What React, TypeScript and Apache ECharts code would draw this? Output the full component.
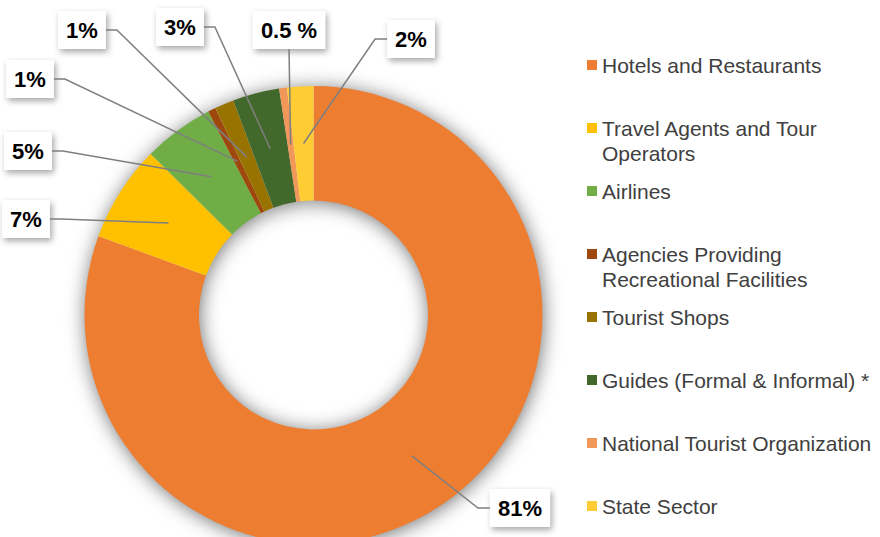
import React, { useEffect, useRef } from "react";
import * as echarts from "echarts";

// ---- data ----
const categories = [
  "Hotels and Restaurants",
  "Travel Agents and Tour Operators",
  "Airlines",
  "Agencies Providing Recreational Facilities",
  "Tourist Shops",
  "Guides (Formal & Informal) *",
  "National Tourist Organization",
  "State Sector",
];
const shares = [80.6, 6.8, 5.0, 0.55, 1.35, 3.3, 0.55, 1.85];
const shareLabels = ["81%", "7%", "5%", "1%", "1%", "3%", "0.5 %", "2%"];
const legendLines = [
  "Hotels and Restaurants",
  "Travel Agents and Tour\nOperators",
  "Airlines",
  "Agencies Providing\nRecreational Facilities",
  "Tourist Shops",
  "Guides (Formal & Informal) *",
  "National Tourist Organization",
  "State Sector",
];

// ---- styles / layout ----
const colors = ["#ED7D31", "#FFC000", "#70AD47", "#9E480E", "#997300", "#43682B", "#F1975A", "#FFCD33"];
const CX = 313.5;
const CY = 315;
const R_IN = 114.5;
const R_OUT = 229;
const LABEL_FONT_SIZE = 22;
const LABEL_PAD = 8;
const FONT = "'Liberation Sans', Arial, sans-serif";
// label box centres and which edge the leader attaches to
const labelCenters: [number, number][] = [
  [520, 508],
  [26, 219],
  [28, 151],
  [30, 79],
  [82, 30],
  [180, 27],
  [289, 30],
  [411, 39],
];
const labelSides = ["left", "right", "right", "right", "right", "right", "bottom", "left"];

function textWidth(t: string): number {
  const c = document.createElement("canvas").getContext("2d");
  if (!c) return t.length * 12;
  c.font = `bold ${LABEL_FONT_SIZE}px ${FONT}`;
  return c.measureText(t).width;
}

export default function App() {
  const ref = useRef<HTMLDivElement>(null);
  useEffect(() => {
    if (!ref.current) return;
    const chart = echarts.init(ref.current, undefined, { renderer: "svg" });
    const total = shares.reduce((a, b) => a + b, 0);
    const rMid = (R_IN + R_OUT) / 2;
    const leader = (i: number) => {
      const before = shares.slice(0, i).reduce((a, b) => a + b, 0);
      const mid = ((before + shares[i] / 2) / total) * 2 * Math.PI;
      const anchor = [CX + rMid * Math.sin(mid), CY - rMid * Math.cos(mid)];
      const [lx, ly] = labelCenters[i];
      const w = textWidth(shareLabels[i]) + LABEL_PAD * 2;
      const h = LABEL_FONT_SIZE + LABEL_PAD * 2;
      const side = labelSides[i];
      let edge: number[];
      let elbow: number[];
      if (side === "right") {
        edge = [lx + w / 2, ly];
        elbow = [lx + w / 2 + 11, ly];
      } else if (side === "left") {
        edge = [lx - w / 2, ly];
        elbow = [lx - w / 2 - 12, ly];
      } else {
        edge = [lx, ly + h / 2];
        elbow = [lx, ly + h / 2];
      }
      return [anchor, elbow, edge];
    };
    chart.setOption({
      animation: false,
      backgroundColor: "#ffffff",
      legend: categories.map((name, i) => ({
        data: [name],
        orient: "vertical",
        left: 587,
        top: 27.5 + i * 63,
        padding: 0,
        itemWidth: 10,
        itemHeight: 10,
        itemGap: 0,
        icon: "rect",
        selectedMode: false,
        formatter: () => {
          const t = legendLines[i];
          return t.indexOf("\n") >= 0 ? "\n" + t : "\n" + t + "\n ";
        },
        textStyle: { fontSize: 21, lineHeight: 25, color: "#404040", fontFamily: FONT },
      })),
      series: [
        {
          // soft drop shadow under the ring
          type: "pie",
          z: 1,
          silent: true,
          center: [CX, CY],
          radius: [R_IN + 1, R_OUT - 1],
          startAngle: 90,
          clockwise: true,
          label: { show: false },
          labelLine: { show: false },
          emphasis: { disabled: true },
          data: shares.map((v) => ({ value: v })),
          itemStyle: {
            color: "#ffffff",
            borderWidth: 0,
            shadowBlur: 20,
            shadowColor: "rgba(0,0,0,0.6)",
            shadowOffsetX: 1,
            shadowOffsetY: 2,
          },
        },
        {
          type: "pie",
          z: 2,
          center: [CX, CY],
          radius: [R_IN, R_OUT],
          startAngle: 90,
          clockwise: true,
          avoidLabelOverlap: false,
          color: colors,
          data: categories.map((name, i) => ({ name, value: shares[i] })),
          itemStyle: { borderWidth: 0 },
          emphasis: { disabled: true },
          label: {
            show: true,
            position: "outside",
            formatter: (p: any) => shareLabels[p.dataIndex],
            fontSize: LABEL_FONT_SIZE,
            lineHeight: LABEL_FONT_SIZE,
            fontWeight: "bold",
            fontFamily: FONT,
            color: "#000000",
            backgroundColor: "#ffffff",
            padding: [LABEL_PAD, LABEL_PAD],
            shadowBlur: 6,
            shadowColor: "rgba(0,0,0,0.35)",
            shadowOffsetX: 2,
            shadowOffsetY: 3,
          },
          labelLine: { show: false },
          labelLayout: (params: any) => {
            const [lx, ly] = labelCenters[params.dataIndex];
            return { x: lx, y: ly, align: "center", verticalAlign: "middle" };
          },
        },
        {
          type: "custom",
          coordinateSystem: "none",
          z: 5,
          silent: true,
          data: shares.map((v) => [v]),
          renderItem: (params: any) => ({
            type: "polyline",
            silent: true,
            z2: 100,
            shape: { points: leader(params.dataIndex) },
            style: { stroke: "#7F7F7F", lineWidth: 1.5, fill: "none" },
          }),
        },
      ],
    });
    return () => chart.dispose();
  }, []);
  return (
    <div
      ref={ref}
      style={{ position: "absolute", left: 0, top: 0, width: 880, height: 537 }}
    />
  );
}
